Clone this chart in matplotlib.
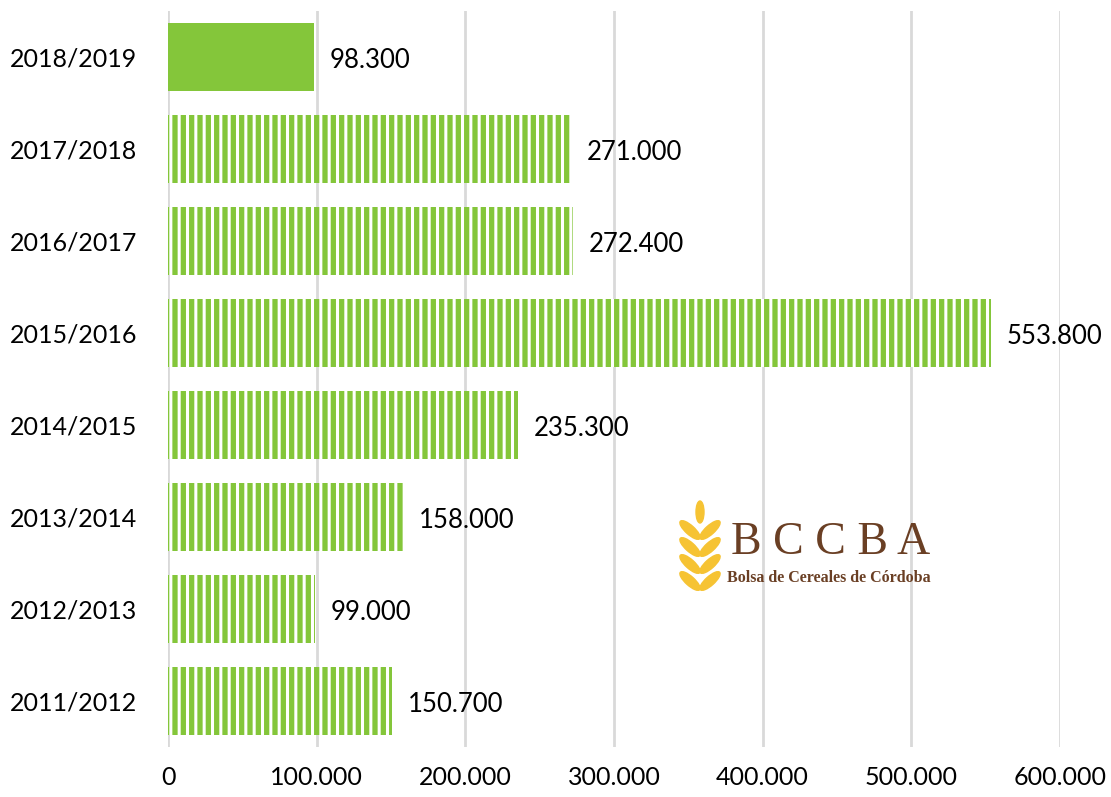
import matplotlib
matplotlib.use("Agg")
import matplotlib.pyplot as plt
from matplotlib.patches import Ellipse
from matplotlib.ticker import FuncFormatter

campaigns = ["2011/2012", "2012/2013", "2013/2014", "2014/2015",
             "2015/2016", "2016/2017", "2017/2018", "2018/2019"]
values = [150700, 99000, 158000, 235300, 553800, 272400, 271000, 98300]
xticks = [0, 100000, 200000, 300000, 400000, 500000, 600000]

GREEN = "#84C63A"
FONT = "Lato"
plt.rcParams["font.family"] = [FONT, "DejaVu Sans"]
plt.rcParams["hatch.linewidth"] = 2.2

def fmt(v):
    return f"{v:,.0f}".replace(",", ".")

fig = plt.figure(figsize=(11.11, 7.97), dpi=100)
ax = fig.add_axes([168/1111, 1-747/797, (1060-168)/1111, (747-11)/797])

ypos = list(range(len(campaigns)))
for i, (c, v) in enumerate(zip(campaigns, values)):
    if i == len(campaigns) - 1:
        ax.barh(i, v, height=0.74, color=GREEN, linewidth=0, zorder=3)
    else:
        ax.barh(i, v, height=0.74, facecolor=GREEN, edgecolor="white",
                hatch="||", linewidth=0, zorder=3)
    ax.text(v + 10500, i - 0.035, fmt(v), va="center", ha="left",
            fontsize=18.5, color="black", clip_on=False)

ax.set_xlim(0, 600000)
ax.set_ylim(-0.5, len(campaigns) - 0.5)
ax.set_yticks(ypos)
ax.set_yticklabels(campaigns, fontsize=18)
ax.set_xticks(xticks)
ax.xaxis.set_major_formatter(FuncFormatter(lambda v, p: fmt(v)))
ax.tick_params(axis="x", labelsize=18, length=0, pad=14)
ax.tick_params(axis="y", length=0, pad=22)
ax.grid(axis="x", color="#D9D9D9", linewidth=2, zorder=0)
for s in ax.spines.values():
    s.set_visible(False)

# Logo
YEL = "#F6C333"
BROWN = "#6A3F24"
fig.text(731/1111, 1-543/797, "B C C B A", fontsize=33, family="Liberation Serif",
         color=BROWN, va="center", ha="left")
fig.text(727/1111, 1-578/797, "Bolsa de Cereales de Córdoba", fontsize=11.5,
         family="Liberation Serif", weight="bold", color=BROWN, va="center", ha="left")
lax = fig.add_axes([676/1111, 1-594/797, 48/1111, 94/797])
lax.set_xlim(0, 48)
lax.set_ylim(0, 94)
lax.axis("off")
lax.add_patch(Ellipse((24, 82), 8, 22, angle=0, color=YEL))
for k, yy in enumerate([64, 47, 30, 13]):
    lax.add_patch(Ellipse((14, yy), 9, 26, angle=48, color=YEL))
    lax.add_patch(Ellipse((34, yy), 9, 26, angle=-48, color=YEL))

fig.savefig("out.png", dpi=100)
